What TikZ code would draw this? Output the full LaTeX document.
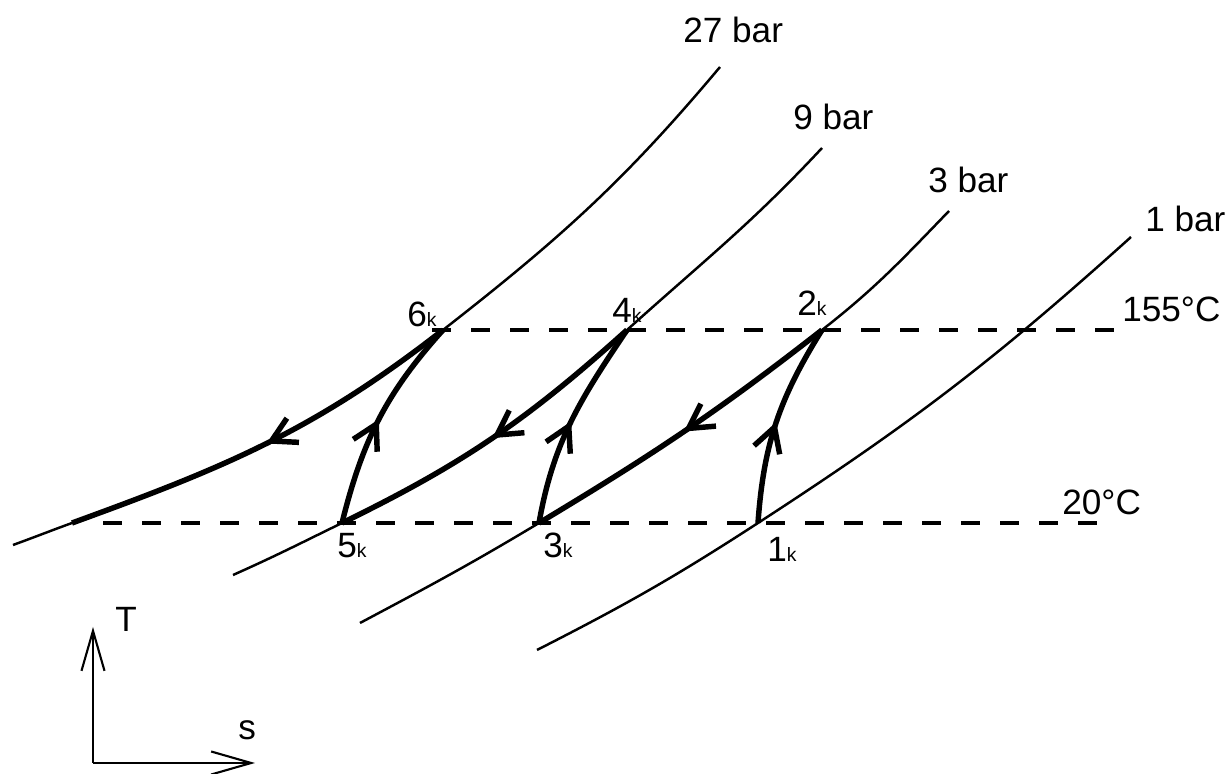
\documentclass[tikz,border=0pt]{standalone}
\usepackage{fontspec}
\setmainfont{Liberation Sans}
\usepackage{tikz}
\usetikzlibrary{positioning,arrows.meta,decorations.markings}
\newcommand{\ksub}{{\fontsize{11}{12}\selectfont k}}

\begin{document}
\begin{tikzpicture}[
    isobar/.style={line width=1.4pt},
    process/.style={line width=3.1pt, postaction={decorate},
      decoration={markings, mark=at position 0.5 with {\arrow{Straight Barb[length=4.8mm,width=5.4mm]}}}},
    isotherm/.style={line width=1.8pt, dash pattern=on 0.38cm off 0.4cm},
    axis/.style={line width=1.2pt, -{Straight Barb[length=8mm,width=4.6mm]}},
    lbl/.style={inner sep=0pt, font=\fontsize{20}{24}\selectfont}
]
\useasboundingbox (0,0) rectangle (24.62,15.48);

% state points
\coordinate (p1) at (15.16,5.02);
\coordinate (p2) at (16.44,8.88);
\coordinate (p3) at (10.78,5.02);
\coordinate (p4) at (12.54,8.88);
\coordinate (p5) at (6.84,5.02);
\coordinate (p6) at (8.86,8.88);
\coordinate (p7) at (1.44,5.02);

% isobar ends
\coordinate (s27) at (0.26,4.58);
\coordinate (e27) at (14.40,14.14);
\coordinate (s9) at (4.66,3.98);
\coordinate (e9) at (16.44,12.52);
\coordinate (s3) at (7.20,3.02);
\coordinate (e3) at (18.98,11.26);
\coordinate (s1) at (10.74,2.48);
\coordinate (e1) at (22.62,10.74);

% isotherm ends
\coordinate (h1) at (8.64,8.88);
\coordinate (h2) at (22.40,8.88);
\coordinate (l1) at (2.06,5.02);
\coordinate (l2) at (22.16,5.02);

% axes
\coordinate (o) at (1.86,0.22);
\coordinate (ty) at (1.86,2.94);
\coordinate (sx) at (5.10,0.22);

% isotherms
\draw[isotherm] (h1) -- (h2);
\draw[isotherm] (l1) -- (l2);

% isobars
\draw[isobar] (s27) to[out=20,in=200] (p7) to[out=20,in=218] (p6) to[out=38,in=230] (e27);
\draw[isobar] (s9) to[out=24,in=206] (p5) to[out=26,in=222] (p4) to[out=42,in=227] (e9);
\draw[isobar] (s3) to[out=28,in=211] (p3) to[out=31,in=218] (p2) to[out=38,in=226] (e3);
\draw[isobar] (s1) to[out=27,in=213] (p1) to[out=33,in=222] (e1);

% compression
\draw[process] (p1) to[out=86,in=238] (p2);
\draw[process] (p3) to[out=80,in=236] (p4);
\draw[process] (p5) to[out=76,in=228] (p6);

% intercooling
\draw[process] (p2) to[out=218,in=31] (p3);
\draw[process] (p4) to[out=222,in=26] (p5);
\draw[process] (p6) to[out=218,in=20] (p7);

% labels
\node[lbl, above right=0.48cm and -0.74cm of e27] (l27) {27 bar};
\node[lbl, above right=0.36cm and -0.58cm of e9] (l9) {9 bar};
\node[lbl, above right=0.36cm and -0.42cm of e3] (l3) {3 bar};
\node[lbl, above right=0.10cm and 0.28cm of e1] (l1bar) {1 bar};
\node[lbl, above right=0.16cm and 0.04cm of h2] (t155) {155°C};
\node[lbl, above right=0.16cm and -0.92cm of l2] (t20) {20°C};

\node[lbl, above left=0.06cm and 0.12cm of p6] (n6) {6\ksub};
\node[lbl, above right=0.14cm and -0.30cm of p4] (n4) {4\ksub};
\node[lbl, above left=0.28cm and -0.10cm of p2] (n2) {2\ksub};
\node[lbl, below right=0.20cm and -0.10cm of p5] (n5) {5\ksub};
\node[lbl, below right=0.20cm and 0.08cm of p3] (n3) {3\ksub};
\node[lbl, below right=0.28cm and 0.18cm of p1] (n1) {1\ksub};

\draw[axis] (o) -- (ty);
\draw[axis] (o) -- (sx);
\node[lbl, above right=-0.10cm and 0.44cm of ty] (lT) {T};
\node[lbl, above right=0.46cm and -0.34cm of sx] (ls) {s};

\end{tikzpicture}
\end{document}
